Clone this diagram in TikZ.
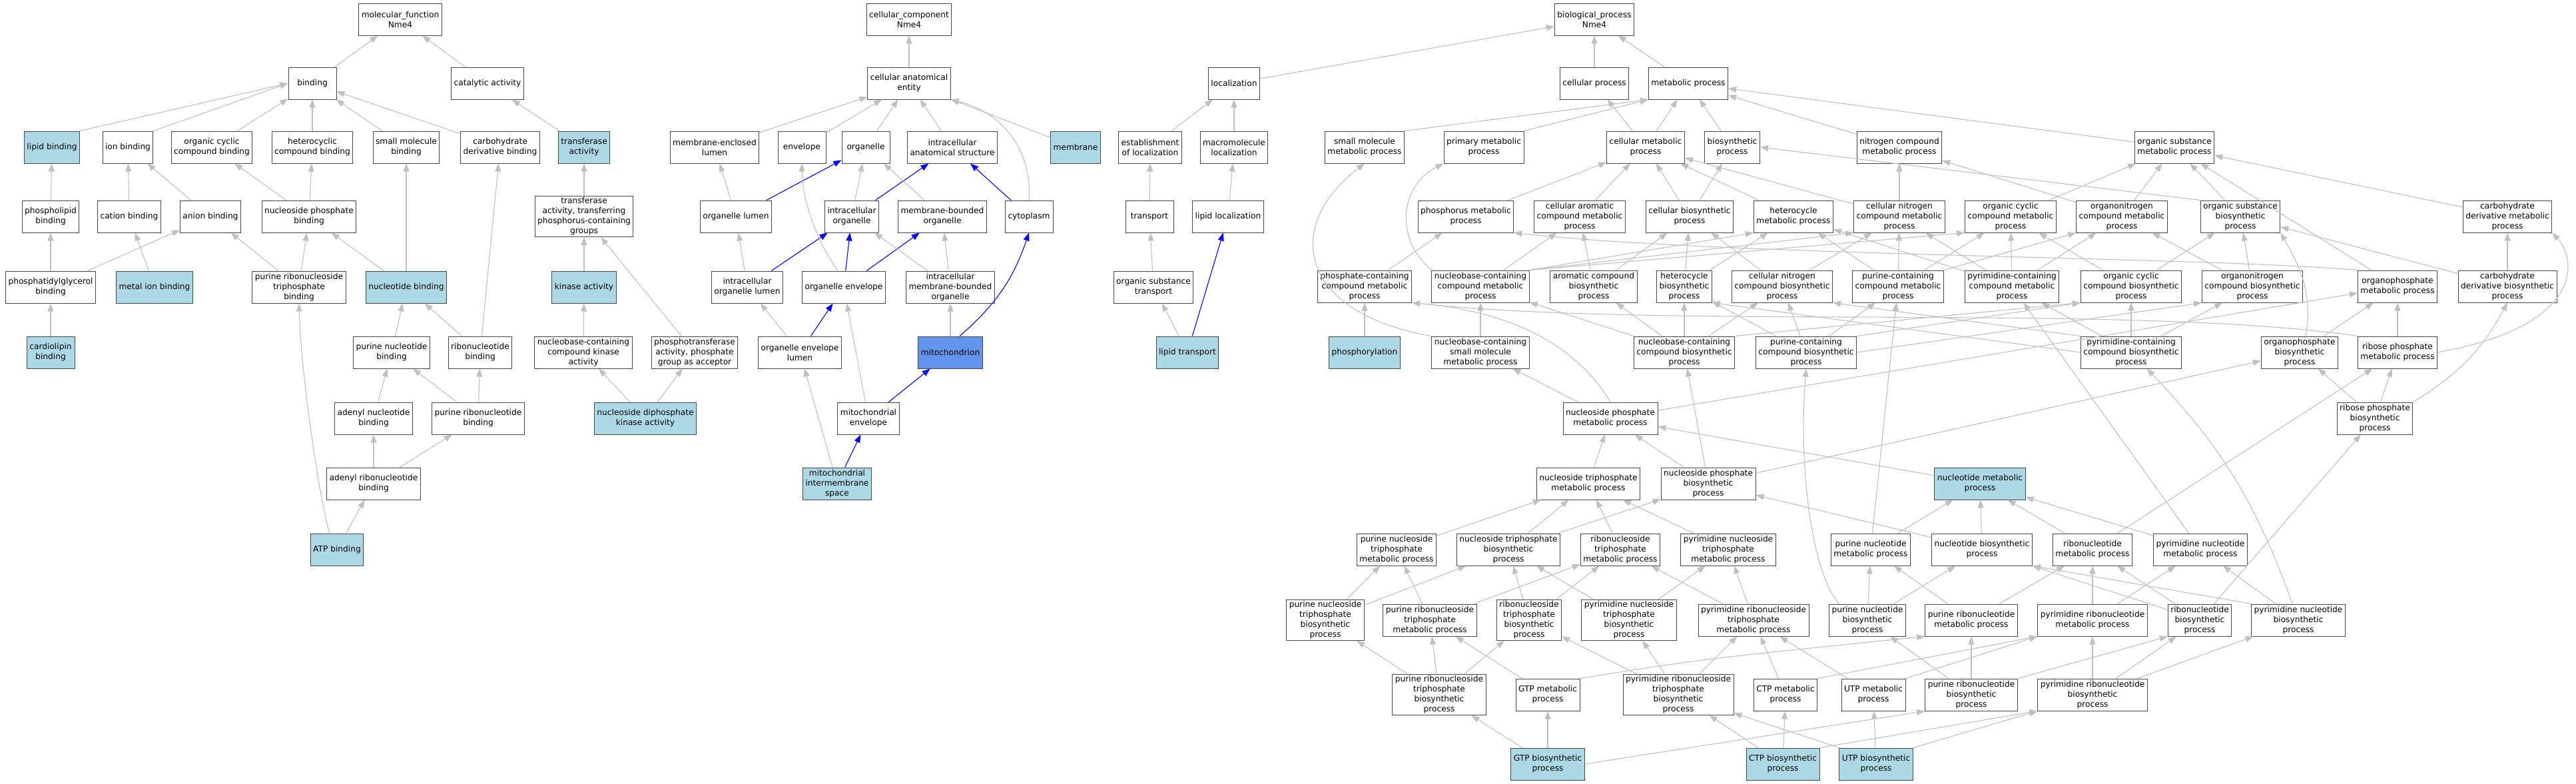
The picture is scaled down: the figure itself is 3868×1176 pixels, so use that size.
\documentclass[tikz,border=0pt]{standalone}
\usepackage{fontspec}
\setmainfont{DejaVu Sans}
\usetikzlibrary{arrows.meta}
\definecolor{edgegray}{HTML}{C0C0C0}
\definecolor{hitblue}{HTML}{ADD8E6}
\definecolor{mitoblue}{HTML}{6495ED}
\newcommand\gofont{\fontsize{12.2}{15}\selectfont}

\begin{document}
\begin{tikzpicture}[x=1pt,y=-1pt,
	term/.style={draw=black!72,fill=white,line width=1pt,align=center,inner xsep=4pt,inner ysep=2pt,minimum width=72pt,minimum height=48pt,font=\gofont},
	hit/.style={term,fill=hitblue},
	isa/.style={draw=edgegray,line width=1.1pt,-{Triangle[length=12pt,width=9pt]}},
	partof/.style={isa,draw=blue}]
	\useasboundingbox (0,0) rectangle (3868,1176);

	\begin{scope}[every node/.style={term}]
		\node (mf) at (601,29) {molecular\_function\\Nme4};
		\node (bind) at (469,125) {binding};
		\node (cata) at (732,125) {catalytic activity};
		\node[hit] (lipb) at (78,221) {lipid binding};
		\node (ionb) at (192,221) {ion binding};
		\node (ocyb) at (318,221) {organic cyclic\\compound binding};
		\node (hetb) at (469,221) {heterocyclic\\compound binding};
		\node (smb) at (610,221) {small molecule\\binding};
		\node (cdb) at (751,221) {carbohydrate\\derivative binding};
		\node[hit] (tra) at (877,221) {transferase\\activity};
		\node (phlb) at (76,325) {phospholipid\\binding};
		\node (catb) at (194,325) {cation binding};
		\node (anb) at (316,325) {anion binding};
		\node (npb) at (464,325) {nucleoside phosphate\\binding};
		\node (trap) at (877,325) {transferase\\activity, transferring\\phosphorus-containing\\groups};
		\node (pgb) at (76,431) {phosphatidylglycerol\\binding};
		\node[hit] (mib) at (232,431) {metal ion binding};
		\node (prtb) at (449,431) {purine ribonucleoside\\triphosphate\\binding};
		\node[hit] (ntb) at (610,431) {nucleotide binding};
		\node[hit] (kin) at (877,431) {kinase activity};
		\node[hit] (clb) at (76,529) {cardiolipin\\binding};
		\node (pnb) at (588,529) {purine nucleotide\\binding};
		\node (rnb) at (721,529) {ribonucleotide\\binding};
		\node (nckin) at (876,529) {nucleobase-containing\\compound kinase\\activity};
		\node (ptr) at (1043,529) {phosphotransferase\\activity, phosphate\\group as acceptor};
		\node (adnb) at (561,628) {adenyl nucleotide\\binding};
		\node (prnb) at (718,628) {purine ribonucleotide\\binding};
		\node[hit] (ndk) at (969,628) {nucleoside diphosphate\\kinase activity};
		\node (adrb) at (561,726) {adenyl ribonucleotide\\binding};
		\node[hit] (atp) at (506,825) {ATP binding};

		\node (cc) at (1365,29) {cellular\_component\\Nme4};
		\node (cae) at (1365,125) {cellular anatomical\\entity};
		\node (mel) at (1073,221) {membrane-enclosed\\lumen};
		\node (env) at (1204,221) {envelope};
		\node (org) at (1300,221) {organelle};
		\node (ias) at (1430,221) {intracellular\\anatomical structure};
		\node[hit] (mem) at (1615,221) {membrane};
		\node (orgl) at (1105,325) {organelle lumen};
		\node (iorg) at (1279,325) {intracellular\\organelle};
		\node (mbo) at (1415,325) {membrane-bounded\\organelle};
		\node (cyto) at (1545,325) {cytoplasm};
		\node (iol) at (1122,431) {intracellular\\organelle lumen};
		\node (oenv) at (1267,431) {organelle envelope};
		\node (imbo) at (1427,431) {intracellular\\membrane-bounded\\organelle};
		\node (oel) at (1201,529) {organelle envelope\\lumen};
		\node[fill=mitoblue] (mito) at (1427,529) {mitochondrion};
		\node (menv) at (1304,628) {mitochondrial\\envelope};
		\node[hit] (mims) at (1257,726) {mitochondrial\\intermembrane\\space};

		\node (loc) at (1853,125) {localization};
		\node (eloc) at (1727,221) {establishment\\of localization};
		\node (mloc) at (1853,221) {macromolecule\\localization};
		\node (trans) at (1726,325) {transport};
		\node (lloc) at (1844,325) {lipid localization};
		\node (ost) at (1732,431) {organic substance\\transport};
		\node[hit] (ltr) at (1783,529) {lipid transport};

		\node (bp) at (2394,29) {biological\_process\\Nme4};
		\node (cp) at (2394,125) {cellular process};
		\node (mp) at (2535,125) {metabolic process};
		\node (smmp) at (2049,221) {small molecule\\metabolic process};
		\node (pmp) at (2228,221) {primary metabolic\\process};
		\node (cmp) at (2471,221) {cellular metabolic\\process};
		\node (bsp) at (2601,221) {biosynthetic\\process};
		\node (ncmp) at (2852,221) {nitrogen compound\\metabolic process};
		\node (osmp) at (3265,221) {organic substance\\metabolic process};
		\node (phmp) at (2201,325) {phosphorus metabolic\\process};
		\node (camp) at (2372,325) {cellular aromatic\\compound metabolic\\process};
		\node (cbsp) at (2537,325) {cellular biosynthetic\\process};
		\node (hmp) at (2693,325) {heterocycle\\metabolic process};
		\node (cnmp) at (2852,325) {cellular nitrogen\\compound metabolic\\process};
		\node (ocmp) at (3019,325) {organic cyclic\\compound metabolic\\process};
		\node (onmp) at (3186,325) {organonitrogen\\compound metabolic\\process};
		\node (osbp) at (3364,325) {organic substance\\biosynthetic\\process};
		\node (cdmp) at (3765,325) {carbohydrate\\derivative metabolic\\process};
		\node (pcmp) at (2049,430) {phosphate-containing\\compound metabolic\\process};
		\node (nbmp) at (2223,430) {nucleobase-containing\\compound metabolic\\process};
		\node (arbp) at (2393,430) {aromatic compound\\biosynthetic\\process};
		\node (hbp) at (2529,430) {heterocycle\\biosynthetic\\process};
		\node (cnbp) at (2676,430) {cellular nitrogen\\compound biosynthetic\\process};
		\node (pucm) at (2850,430) {purine-containing\\compound metabolic\\process};
		\node (pycm) at (3021,430) {pyrimidine-containing\\compound metabolic\\process};
		\node (ocbp) at (3200,430) {organic cyclic\\compound biosynthetic\\process};
		\node (onbp) at (3382,430) {organonitrogen\\compound biosynthetic\\process};
		\node (opmp) at (3600,430) {organophosphate\\metabolic process};
		\node (cdbp) at (3765,430) {carbohydrate\\derivative biosynthetic\\process};
		\node[hit] (phos) at (2049,529) {phosphorylation};
		\node (nsmp) at (2223,529) {nucleobase-containing\\small molecule\\metabolic process};
		\node (nbbp) at (2529,529) {nucleobase-containing\\compound biosynthetic\\process};
		\node (pucb) at (2712,529) {purine-containing\\compound biosynthetic\\process};
		\node (pycb) at (3200,529) {pyrimidine-containing\\compound biosynthetic\\process};
		\node (opbp) at (3453,529) {organophosphate\\biosynthetic\\process};
		\node (rpmp) at (3600,529) {ribose phosphate\\metabolic process};
		\node (npmp) at (2418,628) {nucleoside phosphate\\metabolic process};
		\node (rpbp) at (3566,628) {ribose phosphate\\biosynthetic\\process};
		\node (ntmp) at (2385,726) {nucleoside triphosphate\\metabolic process};
		\node (npbp) at (2565,726) {nucleoside phosphate\\biosynthetic\\process};
		\node[hit] (nmp) at (2973,726) {nucleotide metabolic\\process};
		\node (pntm) at (2097,825) {purine nucleoside\\triphosphate\\metabolic process};
		\node (ntbp) at (2265,825) {nucleoside triphosphate\\biosynthetic\\process};
		\node (rntm) at (2433,825) {ribonucleoside\\triphosphate\\metabolic process};
		\node (yntm) at (2595,825) {pyrimidine nucleoside\\triphosphate\\metabolic process};
		\node (punm) at (2809,825) {purine nucleotide\\metabolic process};
		\node (nbsp) at (2976,825) {nucleotide biosynthetic\\process};
		\node (rnm) at (3142,825) {ribonucleotide\\metabolic process};
		\node (ynm) at (3304,825) {pyrimidine nucleotide\\metabolic process};
		\node (pntb) at (1990,931) {purine nucleoside\\triphosphate\\biosynthetic\\process};
		\node (prntm) at (2147,931) {purine ribonucleoside\\triphosphate\\metabolic process};
		\node (rntb) at (2296,931) {ribonucleoside\\triphosphate\\biosynthetic\\process};
		\node (yntb) at (2446,931) {pyrimidine nucleoside\\triphosphate\\biosynthetic\\process};
		\node (yrntm) at (2633,931) {pyrimidine ribonucleoside\\triphosphate\\metabolic process};
		\node (punb) at (2804,931) {purine nucleotide\\biosynthetic\\process};
		\node (prnm) at (2960,931) {purine ribonucleotide\\metabolic process};
		\node (yrnm) at (3142,931) {pyrimidine ribonucleotide\\metabolic process};
		\node (rnbp) at (3303,931) {ribonucleotide\\biosynthetic\\process};
		\node (ynb) at (3451,931) {pyrimidine nucleotide\\biosynthetic\\process};
		\node (prntb) at (2161,1043) {purine ribonucleoside\\triphosphate\\biosynthetic\\process};
		\node (gtpm) at (2324,1043) {GTP metabolic\\process};
		\node (yrntb) at (2520,1043) {pyrimidine ribonucleoside\\triphosphate\\biosynthetic\\process};
		\node (ctpm) at (2681,1043) {CTP metabolic\\process};
		\node (utpm) at (2813,1043) {UTP metabolic\\process};
		\node (prnbp) at (2960,1043) {purine ribonucleotide\\biosynthetic\\process};
		\node (yrnb) at (3142,1043) {pyrimidine ribonucleotide\\biosynthetic\\process};
		\node[hit] (gtpb) at (2324,1147) {GTP biosynthetic\\process};
		\node[hit] (ctpb) at (2677,1147) {CTP biosynthetic\\process};
		\node[hit] (utpb) at (2817,1147) {UTP biosynthetic\\process};
	\end{scope}

	\draw[isa] (bind) -- (mf);
	\draw[isa] (cata) -- (mf);
	\draw[isa] (lipb.north east) -- (bind.west);
	\draw[isa] (ionb.north east) -- (bind.west);
	\draw[isa] (ocyb) -- (bind);
	\draw[isa] (hetb) -- (bind);
	\draw[isa] (smb) -- (bind);
	\draw[isa] (cdb) -- (bind);
	\draw[isa] (tra) -- (cata);
	\draw[isa] (phlb) -- (lipb);
	\draw[isa] (catb) -- (ionb);
	\draw[isa] (anb) -- (ionb);
	\draw[isa] (npb) -- (ocyb);
	\draw[isa] (npb) -- (hetb);
	\draw[isa] (ntb) -- (smb);
	\draw[isa] (trap) -- (tra);
	\draw[isa] (pgb) -- (phlb);
	\draw[isa] (pgb) -- (anb);
	\draw[isa] (mib) -- (catb);
	\draw[isa] (prtb) -- (anb);
	\draw[isa] (prtb) -- (npb);
	\draw[isa] (ntb) -- (npb);
	\draw[isa] (kin) -- (trap);
	\draw[isa] (clb) -- (pgb);
	\draw[isa] (pnb) -- (ntb);
	\draw[isa] (rnb) -- (ntb);
	\draw[isa] (rnb) -- (cdb);
	\draw[isa] (nckin) -- (kin);
	\draw[isa] (ptr) -- (trap);
	\draw[isa] (adnb) -- (pnb);
	\draw[isa] (prnb) -- (pnb);
	\draw[isa] (prnb) -- (rnb);
	\draw[isa] (ndk) -- (nckin);
	\draw[isa] (ndk) -- (ptr);
	\draw[isa] (adrb) -- (adnb);
	\draw[isa] (adrb) -- (prnb);
	\draw[isa] (atp) -- (adrb);
	\draw[isa] (atp.115) .. controls (478,740) and (452,560) .. (prtb.south);

	\draw[isa] (cae) -- (cc);
	\draw[isa] (mel) -- (cae);
	\draw[isa] (env) -- (cae);
	\draw[isa] (org) -- (cae);
	\draw[isa] (ias) -- (cae);
	\draw[isa] (mem) -- (cae);
	\draw[isa] (cyto.north) .. controls (1550,230) and (1510,170) .. (cae.south east);
	\draw[isa] (orgl) -- (mel);
	\draw[partof] (orgl) -- (org);
	\draw[isa] (iorg) -- (org);
	\draw[partof] (iorg) -- (ias);
	\draw[isa] (mbo) -- (org);
	\draw[partof] (cyto) -- (ias);
	\draw[isa] (iol) -- (orgl);
	\draw[partof] (iol) -- (iorg);
	\draw[isa] (oenv.110) .. controls (1225,360) and (1205,300) .. (env.south);
	\draw[partof] (oenv) -- (iorg);
	\draw[partof] (oenv) -- (mbo);
	\draw[isa] (imbo) -- (mbo);
	\draw[isa] (imbo) -- (iorg);
	\draw[isa] (oel) -- (iol);
	\draw[partof] (oel) -- (oenv);
	\draw[isa] (mito) -- (imbo);
	\draw[partof] (mito.60) to[bend right=15] (cyto.south);
	\draw[partof] (menv) -- (mito);
	\draw[isa] (menv) -- (oenv);
	\draw[partof] (mims) -- (menv);
	\draw[isa] (mims) -- (oel);

	\draw[isa] (loc) -- (bp);
	\draw[isa] (eloc) -- (loc);
	\draw[isa] (mloc) -- (loc);
	\draw[isa] (trans) -- (eloc);
	\draw[isa] (lloc) -- (mloc);
	\draw[isa] (ost) -- (trans);
	\draw[isa] (ltr) -- (ost);
	\draw[partof] (ltr) -- (lloc);

	\draw[isa] (cp) -- (bp);
	\draw[isa] (mp) -- (bp);
	\draw[isa] (smmp.north east) -- (mp.south west);
	\draw[isa] (pmp.north east) -- (mp.south west);
	\draw[isa] (cmp) -- (cp);
	\draw[isa] (cmp) -- (mp);
	\draw[isa] (bsp) -- (mp);
	\draw[isa] (ncmp) -- (mp);
	\draw[isa] (osmp) -- (mp);
	\draw[isa] (phmp) -- (cmp);
	\draw[isa] (camp) -- (cmp);
	\draw[isa] (cbsp) -- (cmp);
	\draw[isa] (cbsp) -- (bsp);
	\draw[isa] (hmp) -- (cmp);
	\draw[isa] (cnmp) -- (cmp);
	\draw[isa] (cnmp) -- (ncmp);
	\draw[isa] (ocmp) -- (osmp);
	\draw[isa] (onmp) -- (ncmp);
	\draw[isa] (onmp) -- (osmp);
	\draw[isa] (osbp) -- (osmp);
	\draw[isa] (osbp.north west) -- (bsp.east);
	\draw[isa] (cdmp) -- (osmp);
	\draw[isa] (pcmp) -- (phmp);
	\draw[isa] (nbmp) -- (camp);
	\draw[isa] (nbmp.north east) -- (hmp.south west);
	\draw[isa] (nbmp.north east) -- (cnmp.south west);
	\draw[isa] (nbmp.north east) -- (ocmp.south west);
	\draw[isa] (nbmp.north west) .. controls (2095,360) and (2100,280) .. (pmp.south west);
	\draw[isa] (arbp) -- (camp);
	\draw[isa] (arbp) -- (cbsp);
	\draw[isa] (hbp) -- (hmp);
	\draw[isa] (hbp) -- (cbsp);
	\draw[isa] (cnbp) -- (cbsp);
	\draw[isa] (cnbp) -- (cnmp);
	\draw[isa] (pucm) -- (hmp);
	\draw[isa] (pucm) -- (cnmp);
	\draw[isa] (pucm) -- (ocmp);
	\draw[isa] (pucm.north east) -- (onmp.south west);
	\draw[isa] (pycm) -- (hmp);
	\draw[isa] (pycm) -- (cnmp);
	\draw[isa] (pycm) -- (ocmp);
	\draw[isa] (pycm) -- (onmp);
	\draw[isa] (ocbp) -- (ocmp);
	\draw[isa] (ocbp) -- (osbp);
	\draw[isa] (onbp) -- (onmp);
	\draw[isa] (onbp) -- (osbp);
	\draw[isa] (opmp) -- (osmp);
	\draw[isa] (opmp.north west) .. controls (3300,385) and (2600,385) .. (phmp.south east);
	\draw[isa] (cdbp) -- (cdmp);
	\draw[isa] (cdbp) -- (osbp);
	\draw[isa] (phos) -- (pcmp);
	\draw[isa] (nsmp) -- (nbmp);
	\draw[isa] (nsmp.north west) .. controls (1950,470) and (1925,340) .. (smmp.south);
	\draw[isa] (nbbp) -- (nbmp);
	\draw[isa] (nbbp) -- (arbp);
	\draw[isa] (nbbp) -- (hbp);
	\draw[isa] (nbbp) -- (cnbp);
	\draw[isa] (nbbp.north east) -- (ocbp.south west);
	\draw[isa] (pucb) -- (pucm);
	\draw[isa] (pucb) -- (hbp);
	\draw[isa] (pucb) -- (cnbp);
	\draw[isa] (pucb.north east) -- (ocbp.south west);
	\draw[isa] (pucb.east) -- (onbp.south west);
	\draw[isa] (pycb) -- (pycm);
	\draw[isa] (pycb.west) -- (hbp.south east);
	\draw[isa] (pycb.north west) -- (cnbp.south east);
	\draw[isa] (pycb) -- (ocbp);
	\draw[isa] (pycb) -- (onbp);
	\draw[isa] (opbp) -- (opmp);
	\draw[isa] (opbp.70) to[out=80,in=-60] (osbp.south east);
	\draw[isa] (rpmp) -- (opmp);
	\draw[isa] (rpmp.east) .. controls (3880,490) and (3870,390) .. (cdmp.south east);
	\draw[isa] (rpmp.north west) .. controls (3200,455) and (2500,495) .. (pcmp.south east);
	\draw[isa] (npmp) -- (nsmp);
	\draw[isa] (npmp) -- (opmp);
	\draw[isa] (npmp.north) .. controls (2380,540) and (2300,470) .. (pcmp.south east);
	\draw[isa] (rpbp) -- (rpmp);
	\draw[isa] (rpbp) -- (opbp);
	\draw[isa] (rpbp.north east) to[bend right=15] (cdbp.south);
	\draw[isa] (ntmp) -- (npmp);
	\draw[isa] (npbp) -- (npmp);
	\draw[isa] (npbp) -- (nbbp);
	\draw[isa] (npbp) -- (opbp);
	\draw[isa] (nmp) -- (npmp);
	\draw[isa] (pntm) -- (ntmp);
	\draw[isa] (ntbp) -- (ntmp);
	\draw[isa] (ntbp) -- (npbp);
	\draw[isa] (rntm) -- (ntmp);
	\draw[isa] (yntm) -- (ntmp);
	\draw[isa] (punm) -- (nmp);
	\draw[isa] (punm) -- (pucm);
	\draw[isa] (nbsp) -- (nmp);
	\draw[isa] (nbsp) -- (npbp);
	\draw[isa] (rnm) -- (nmp);
	\draw[isa] (rnm) -- (rpmp);
	\draw[isa] (ynm) -- (nmp);
	\draw[isa] (ynm) -- (pycm);
	\draw[isa] (pntb) -- (pntm);
	\draw[isa] (pntb) -- (ntbp);
	\draw[isa] (prntm) -- (pntm);
	\draw[isa] (prntm) -- (rntm);
	\draw[isa] (rntb) -- (ntbp);
	\draw[isa] (rntb) -- (rntm);
	\draw[isa] (yntb) -- (ntbp);
	\draw[isa] (yntb) -- (yntm);
	\draw[isa] (yrntm) -- (rntm);
	\draw[isa] (yrntm) -- (yntm);
	\draw[isa] (punb) -- (punm);
	\draw[isa] (punb) -- (nbsp);
	\draw[isa] (punb.150) .. controls (2720,860) and (2700,700) .. (pucb.south);
	\draw[isa] (prnm) -- (punm);
	\draw[isa] (prnm) -- (rnm);
	\draw[isa] (yrnm) -- (rnm);
	\draw[isa] (yrnm) -- (ynm);
	\draw[isa] (rnbp) -- (rnm);
	\draw[isa] (rnbp) -- (nbsp);
	\draw[isa] (rnbp) -- (rpbp);
	\draw[isa] (ynb) -- (ynm);
	\draw[isa] (ynb.north west) -- (nbsp.south east);
	\draw[isa] (ynb) to[bend right=12] (pycb);
	\draw[isa] (prntb) -- (pntb);
	\draw[isa] (prntb) -- (prntm);
	\draw[isa] (prntb) -- (rntb);
	\draw[isa] (gtpm) -- (prntm);
	\draw[isa] (gtpm.north east) .. controls (2550,990) .. (prnm.south west);
	\draw[isa] (yrntb) -- (rntb);
	\draw[isa] (yrntb) -- (yntb);
	\draw[isa] (yrntb) -- (yrntm);
	\draw[isa] (ctpm) -- (yrntm);
	\draw[isa] (ctpm.north east) -- (yrnm.south west);
	\draw[isa] (utpm) -- (yrntm);
	\draw[isa] (utpm.north east) -- (yrnm.south west);
	\draw[isa] (prnbp) -- (punb);
	\draw[isa] (prnbp) -- (prnm);
	\draw[isa] (prnbp.north east) -- (rnbp.south west);
	\draw[isa] (yrnb) -- (yrnm);
	\draw[isa] (yrnb) -- (rnbp);
	\draw[isa] (yrnb) -- (ynb);
	\draw[isa] (gtpb) -- (prntb);
	\draw[isa] (gtpb) -- (gtpm);
	\draw[isa] (gtpb.east) -- (prnbp.south west);
	\draw[isa] (ctpb) -- (yrntb);
	\draw[isa] (ctpb) -- (ctpm);
	\draw[isa] (ctpb.north east) -- (yrnb.south west);
	\draw[isa] (utpb.north west) -- (yrntb);
	\draw[isa] (utpb) -- (utpm);
	\draw[isa] (utpb.north east) -- (yrnb.south west);
\end{tikzpicture}
\end{document}
